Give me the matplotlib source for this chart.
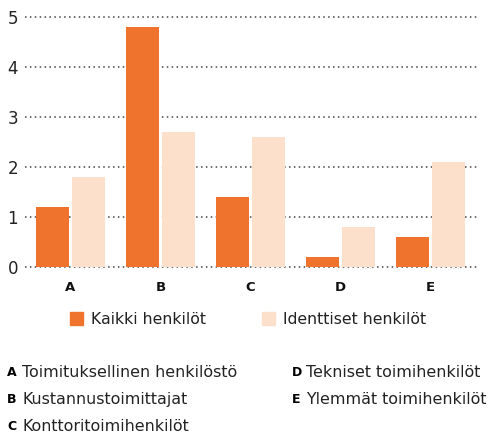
import numpy as np
import matplotlib.pyplot as plt
from matplotlib.patches import Rectangle

plt.rcParams['font.family'] = ['DejaVu Sans']

categories = ['A', 'B', 'C', 'D', 'E']
kaikki = [1.2, 4.8, 1.4, 0.2, 0.6]
identtiset = [1.8, 2.7, 2.6, 0.8, 2.1]
series_names = ['Kaikki henkilöt', 'Identtiset henkilöt']
notes_left = [('A', 'Toimituksellinen henkilöstö'), ('B', 'Kustannustoimittajat'),
              ('C', 'Konttoritoimihenkilöt')]
notes_right = [('D', 'Tekniset toimihenkilöt'), ('E', 'Ylemmät toimihenkilöt')]

c_dark = '#EF722D'
c_light = '#FDE0CB'

W, H = 493, 436
fig = plt.figure(figsize=(W / 100, H / 100), dpi=100)

def fx(px):
    return px / W

def fy(py):
    return 1 - py / H

ax = fig.add_axes([fx(25), fy(267), fx(477.7 - 25), fy(16.7) - fy(267)])
x = np.arange(len(categories))
w = 0.367
ax.bar(x - 0.2, kaikki, w, color=c_dark, zorder=3)
ax.bar(x + 0.2, identtiset, w, color=c_light, zorder=3)

ax.set_xlim(-0.506, 4.524)
ax.set_ylim(0, 5)
ax.set_yticks(range(6))
ax.set_yticklabels([str(i) for i in range(6)], fontsize=12, color='#222222')
ax.set_xticks(x)
ax.set_xticklabels(categories, fontsize=9.5, fontweight='bold', color='#111111')
ax.tick_params(axis='both', length=0)
ax.tick_params(axis='y', pad=5)
ax.tick_params(axis='x', pad=10)
for s in ax.spines.values():
    s.set_visible(False)
ax.yaxis.grid(True, linestyle=(0, (1, 2.2)), color='#444444', linewidth=1.1, zorder=0)
for g in ax.get_ygridlines():
    g.set_clip_on(False)
ax.set_axisbelow(True)

# legend
for (px, name, col) in [(70, series_names[0], c_dark), (262, series_names[1], c_light)]:
    fig.add_artist(Rectangle((fx(px), fy(325)), fx(12.5), fy(312) - fy(325),
                             transform=fig.transFigure, color=col))
    fig.text(fx(px + 21), fy(319), name, fontsize=11.3, va='center', color='#222222')

# category notes
rows = [372, 399, 426]
for i, (k, t) in enumerate(notes_left):
    fig.text(fx(7), fy(rows[i]), k, fontsize=9, fontweight='bold', va='center')
    fig.text(fx(22), fy(rows[i]), t, fontsize=11.4, va='center', color='#222222')
for i, (k, t) in enumerate(notes_right):
    fig.text(fx(292), fy(rows[i]), k, fontsize=9, fontweight='bold', va='center')
    fig.text(fx(306), fy(rows[i]), t, fontsize=11.4, va='center', color='#222222')

fig.savefig('out.png', dpi=100)
